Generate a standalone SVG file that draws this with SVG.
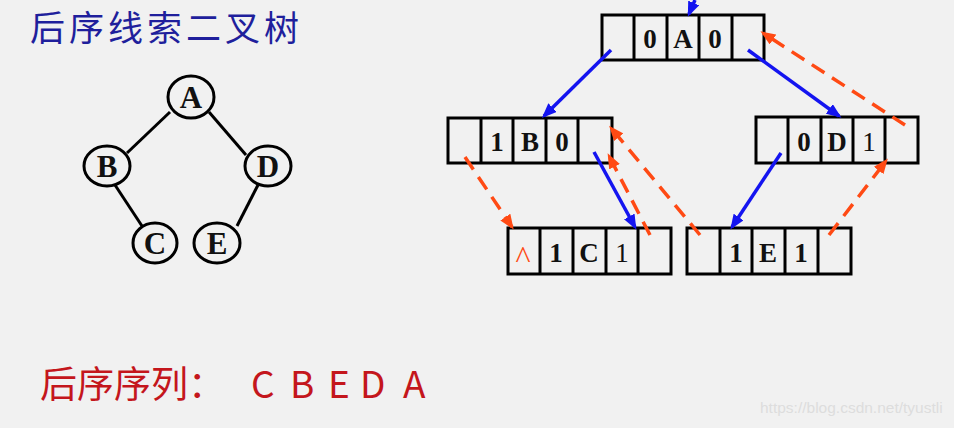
<svg xmlns="http://www.w3.org/2000/svg" width="954" height="428" viewBox="0 0 954 428">
<style>
.bg{fill:#f1f1f1}
.box{fill:#f1f1f1;stroke:#000;stroke-width:3}
.div{stroke:#000;stroke-width:3}
.node{fill:#f1f1f1;stroke:#000;stroke-width:3}
.edge{stroke:#000;stroke-width:3}
.t{font-family:"Liberation Serif","Times New Roman",serif;font-weight:bold;font-size:27px;text-anchor:middle;fill:#111}
.tn{font-weight:normal}
.tree{font-family:"Liberation Serif","Times New Roman",serif;font-weight:bold;font-size:31px;text-anchor:middle;fill:#111}
.blue{stroke:#1414f0;stroke-width:3.5;fill:none;marker-end:url(#ab)}
.dash{stroke:#ff4a14;stroke-width:3.5;fill:none;stroke-dasharray:15 9;marker-end:url(#ao)}
.title{font-family:"Noto Sans CJK SC",sans-serif;font-size:35px;letter-spacing:4px;fill:#1f1f9c}
.seq{font-family:"Noto Sans CJK SC",sans-serif;font-size:37px;fill:#c4161c}
.wm{font-family:"Liberation Sans",Arial,sans-serif;font-size:15.5px;fill:#dddddd}
</style>
<defs>
<marker id="ab" markerUnits="userSpaceOnUse" markerWidth="16" markerHeight="12" refX="12" refY="6" orient="auto"><path d="M0,0 L15,6 L0,12 z" fill="#1414f0"/></marker>
<marker id="ao" markerUnits="userSpaceOnUse" markerWidth="16" markerHeight="12" refX="12" refY="6" orient="auto"><path d="M0,0 L15,6 L0,12 z" fill="#ff4a14"/></marker>
</defs>
<rect class="bg" x="0" y="0" width="954" height="428"/>
<text class="title" x="30" y="41">后序线索二叉树</text>

<g id="tree-edges">
<line class="edge" x1="170" y1="112" x2="127" y2="153"/>
<line class="edge" x1="209" y1="112" x2="246" y2="155"/>
<line class="edge" x1="115" y1="185" x2="142" y2="226"/>
<line class="edge" x1="258" y1="185" x2="237" y2="226"/>
</g>
<g id="tA"><ellipse class="node" cx="191" cy="97" rx="23" ry="21"/><text class="tree" x="191" y="108">A</text></g>
<g id="tB"><ellipse class="node" cx="107" cy="166" rx="23" ry="20"/><text class="tree" x="107" y="177">B</text></g>
<g id="tD"><ellipse class="node" cx="268" cy="166" rx="23" ry="20"/><text class="tree" x="268" y="177">D</text></g>
<g id="tC"><ellipse class="node" cx="155" cy="243" rx="22" ry="20"/><text class="tree" x="155" y="254">C</text></g>
<g id="tE"><ellipse class="node" cx="217" cy="243" rx="23" ry="20"/><text class="tree" x="217" y="254">E</text></g>

<g id="nA">
<rect class="box" x="602" y="15" width="162" height="45"/>
<line class="div" x1="634" y1="15" x2="634" y2="60"/><line class="div" x1="667" y1="15" x2="667" y2="60"/><line class="div" x1="699" y1="15" x2="699" y2="60"/><line class="div" x1="732" y1="15" x2="732" y2="60"/>
<text class="t" x="650" y="48">0</text><text class="t" x="683" y="48">A</text><text class="t" x="715" y="48">0</text>
</g>
<g id="nB">
<rect class="box" x="448" y="118" width="164" height="45"/>
<line class="div" x1="481" y1="118" x2="481" y2="163"/><line class="div" x1="513" y1="118" x2="513" y2="163"/><line class="div" x1="546" y1="118" x2="546" y2="163"/><line class="div" x1="578" y1="118" x2="578" y2="163"/>
<text class="t" x="497" y="151">1</text><text class="t" x="530" y="151">B</text><text class="t" x="562" y="151">0</text>
</g>
<g id="nD">
<rect class="box" x="756" y="117" width="162" height="46"/>
<line class="div" x1="788" y1="117" x2="788" y2="163"/><line class="div" x1="821" y1="117" x2="821" y2="163"/><line class="div" x1="853" y1="117" x2="853" y2="163"/><line class="div" x1="885" y1="117" x2="885" y2="163"/>
<text class="t" x="804" y="151">0</text><text class="t" x="837" y="151">D</text><text class="t tn" x="869" y="151">1</text>
</g>
<g id="nC">
<rect class="box" x="508" y="228" width="163" height="46"/>
<line class="div" x1="540" y1="228" x2="540" y2="274"/><line class="div" x1="573" y1="228" x2="573" y2="274"/><line class="div" x1="606" y1="228" x2="606" y2="274"/><line class="div" x1="638" y1="228" x2="638" y2="274"/>
<text class="t tn" x="523" y="268" style="fill:#ff4a14;font-size:32px">^</text><text class="t" x="556" y="262">1</text><text class="t" x="589" y="262">C</text><text class="t tn" x="622" y="262">1</text>
</g>
<g id="nE">
<rect class="box" x="687" y="228" width="164" height="46"/>
<line class="div" x1="720" y1="228" x2="720" y2="274"/><line class="div" x1="752" y1="228" x2="752" y2="274"/><line class="div" x1="785" y1="228" x2="785" y2="274"/><line class="div" x1="818" y1="228" x2="818" y2="274"/>
<text class="t" x="736" y="262">1</text><text class="t" x="768" y="262">E</text><text class="t" x="801" y="262">1</text>
</g>

<g id="connectors">
<line class="blue" x1="695" y1="0" x2="689" y2="14"/>
<line class="blue" x1="611" y1="50" x2="544" y2="116"/>
<line class="blue" x1="748" y1="50" x2="839" y2="116"/>
<line class="blue" x1="594" y1="152" x2="635" y2="227"/>
<line class="blue" x1="781" y1="153" x2="732" y2="227"/>
<line class="dash" x1="905" y1="125" x2="763" y2="33"/>
<line class="dash" x1="465" y1="157" x2="512" y2="227"/>
<line class="dash" x1="650" y1="235" x2="609" y2="156"/>
<line class="dash" x1="700" y1="235" x2="611" y2="128"/>
<line class="dash" x1="829" y1="235" x2="886" y2="161"/>
</g>

<text class="seq" x="40" y="398">后序序列：</text>
<text class="seq" y="398"><tspan x="251">C</tspan><tspan x="290">B</tspan><tspan x="328">E</tspan><tspan x="360">D</tspan><tspan x="403">A</tspan></text>
<text class="wm" x="760" y="413">https://blog.csdn.net/tyustli</text>
</svg>
